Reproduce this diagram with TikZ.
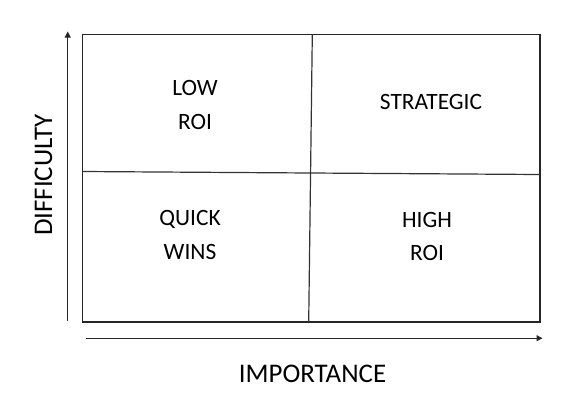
\documentclass[tikz,border=0pt]{standalone}
\usepackage{fontspec}
\setmainfont{Carlito}
\usetikzlibrary{arrows.meta}
\begin{document}
\begin{tikzpicture}[x=1bp,y=-1bp,
  frame/.style={draw=black!85,line width=1.4bp},
  divider/.style={draw=black!80,line width=1.2bp},
  axis/.style={draw=black!85,line width=1bp,-{Triangle[length=6bp,width=6bp]}},
  quad/.style={font=\fontsize{23.5}{26}\selectfont,align=center,text=black,inner sep=0pt},
  axislabel/.style={font=\fontsize{27}{30}\selectfont,text=black,inner sep=0pt}]
\useasboundingbox[fill=white] (0,0) rectangle (583,402);
% outer frame of the matrix
\coordinate (nw) at (82.5,34.5);
\coordinate (se) at (540,322);
\draw[frame] (nw) rectangle (se);
% quadrant dividers
\coordinate (vtop) at (312.3,34.5);
\coordinate (vbot) at (308.7,322);
\coordinate (hleft) at (82.5,171.5);
\coordinate (hright) at (540,174.5);
\draw[divider] (vtop) -- (vbot);
\draw[divider] (hleft) -- (hright);
% axes
\coordinate (ybase) at (67.7,320.5);
\coordinate (ytip) at (67.7,31.5);
\coordinate (xbase) at (86,338.2);
\coordinate (xtip) at (542.5,338.2);
\draw[axis] (ybase) -- (ytip);
\draw[axis] (xbase) -- (xtip);
% quadrant labels
\node[quad] (lowroi) at (195,105) {LOW\\[8bp]ROI};
\node[quad] (strategic) at (431,102) {STRATEGIC};
\node[quad] (quick) at (190,235) {QUICK\\[8bp]WINS};
\node[quad] (highroi) at (427,236.5) {HIGH\\[8bp]ROI};
% axis labels
\node[axislabel,rotate=90] (difficulty) at (43.5,175) {DIFFICULTY};
\node[axislabel] (importance) at (312.5,374) {IMPORTANCE};
\end{tikzpicture}
\end{document}
